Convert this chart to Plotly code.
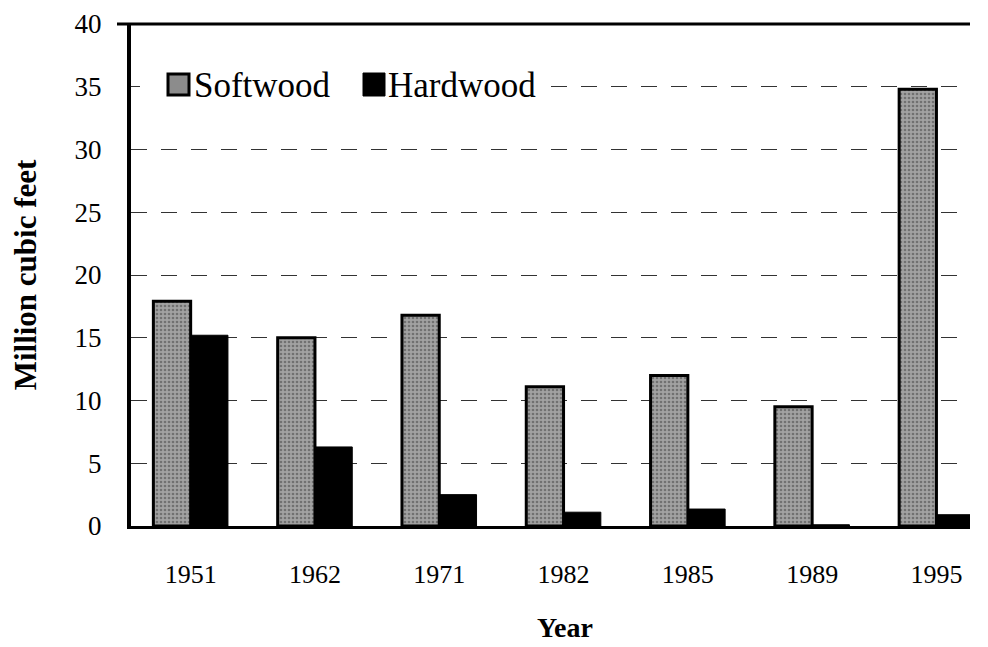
import plotly.graph_objects as go

# values
years = ["1951", "1962", "1971", "1982", "1985", "1989", "1995"]
softwood = [17.9, 15.0, 16.8, 11.1, 12.0, 9.5, 34.8]
hardwood = [15.2, 6.3, 2.5, 1.1, 1.35, 0.1, 0.9]

serif = "Liberation Serif"

fig = go.Figure()
fig.add_trace(go.Bar(
    x=years, y=softwood, name="Softwood", showlegend=False,
    marker=dict(color="#999999", line=dict(color="black", width=3),
                pattern=dict(shape=".", fgcolor="#404040", bgcolor="#a2a2a2",
                             size=4, solidity=0.35)),
))
fig.add_trace(go.Bar(
    x=years, y=hardwood, name="Hardwood", showlegend=False,
    marker=dict(color="black", line=dict(color="black", width=1)),
))

# page has an 8px body margin, so the figure is a little smaller than the window
W, H = 980, 639
# plot area in figure pixels
L, R, T, B = 123, 962, 16, 518


def px(x):
    return (x - L) / (R - L)


def py(y):
    return (B - y) / (B - T)


fig.update_layout(
    width=W, height=H,
    margin=dict(l=L, r=W - R, t=T, b=H - B),
    paper_bgcolor="white", plot_bgcolor="white",
    barmode="group", bargap=0.4, bargroupgap=0,
    font=dict(family=serif, color="black"),
    xaxis=dict(
        type="category", range=[-0.48, 6.27], automargin=False,
        showline=True, linecolor="black", linewidth=3,
        ticks="", ticklabelstandoff=23,
        tickfont=dict(size=26, family=serif),
        showgrid=False,
    ),
    yaxis=dict(
        range=[0, 40], dtick=5, automargin=False,
        showline=True, linecolor="black", linewidth=4,
        ticks="", ticklabelstandoff=20,
        tickfont=dict(size=27, family=serif),
        showgrid=True, gridcolor="#333333", gridwidth=1, griddash="16px,14px",
        zeroline=False,
        title=dict(text="<b>Million cubic feet</b>", font=dict(size=31, family=serif), standoff=30),
    ),
    shapes=[
        # heavy line across the top at 40
        dict(type="line", xref="paper", yref="paper", x0=px(109), x1=1, y0=1, y1=1,
             line=dict(color="black", width=3)),
        # white box behind the legend hides the 35 gridline there
        dict(type="rect", xref="paper", yref="paper", x0=px(132), x1=px(537), y0=py(97), y1=py(52),
             fillcolor="white", line=dict(width=0)),
        # legend swatches
        dict(type="rect", xref="paper", yref="paper", x0=px(160), x1=px(181), y0=py(87), y1=py(66),
             fillcolor="#8c8c8c", line=dict(color="black", width=3)),
        dict(type="rect", xref="paper", yref="paper", x0=px(355), x1=px(377), y0=py(88), y1=py(65),
             fillcolor="black", line=dict(color="black", width=1)),
    ],
    annotations=[
        dict(text="Softwood", xref="paper", yref="paper", x=px(184), y=py(77),
             xanchor="left", yanchor="middle", showarrow=False, font=dict(size=35, family=serif)),
        dict(text="Hardwood", xref="paper", yref="paper", x=px(378), y=py(77),
             xanchor="left", yanchor="middle", showarrow=False, font=dict(size=35, family=serif)),
        dict(text="<b>Year</b>", xref="paper", yref="paper", x=px(557), y=py(619),
             xanchor="center", yanchor="middle", showarrow=False, font=dict(size=28, family=serif)),
    ],
)

fig.write_html("out.html")
